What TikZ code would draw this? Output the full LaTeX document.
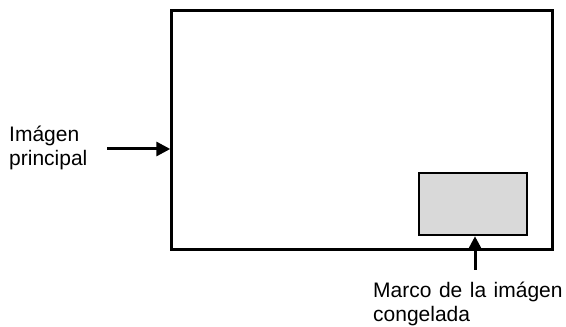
\documentclass[tikz,border=0pt]{standalone}
\usepackage{fontspec}
\setmainfont{Liberation Sans}
\usetikzlibrary{arrows.meta,positioning}
\newcommand{\widespaces}{\spaceskip 7.5pt\relax}
\tikzset{
  screen/.style={draw, line width=3pt, minimum width=381pt, minimum height=238.5pt, inner sep=0pt},
  still/.style={draw, line width=2.5pt, fill=gray!30, minimum width=108pt, minimum height=62pt, inner sep=0pt},
  arrow/.style={-{Triangle[length=14pt,width=14pt]}, line width=3pt},
  note/.style={align=left, font=\fontsize{21}{24}\selectfont\widespaces, inner sep=0pt}
}

\begin{document}
\begin{tikzpicture}[x=1pt,y=1pt]
  \useasboundingbox (0,0) rectangle (566,327);
  \node[screen] (frame) at (362.3,196.75) {};
  \node[still] (still) at (473,123) {};

  \node[note, anchor=west] (mainlabel) at (9,179) {Imágen\\principal};
  \coordinate (maintail) at (107,178);
  \draw[arrow] (maintail) -- (maintail -| frame.west);

  \node[note, anchor=west] (stilllabel) at (373,23) {Marco de la imágen\\congelada};
  \coordinate (stilltail) at (475,57);
  \draw[arrow] (stilltail) -- (stilltail |- still.south);
\end{tikzpicture}
\end{document}
